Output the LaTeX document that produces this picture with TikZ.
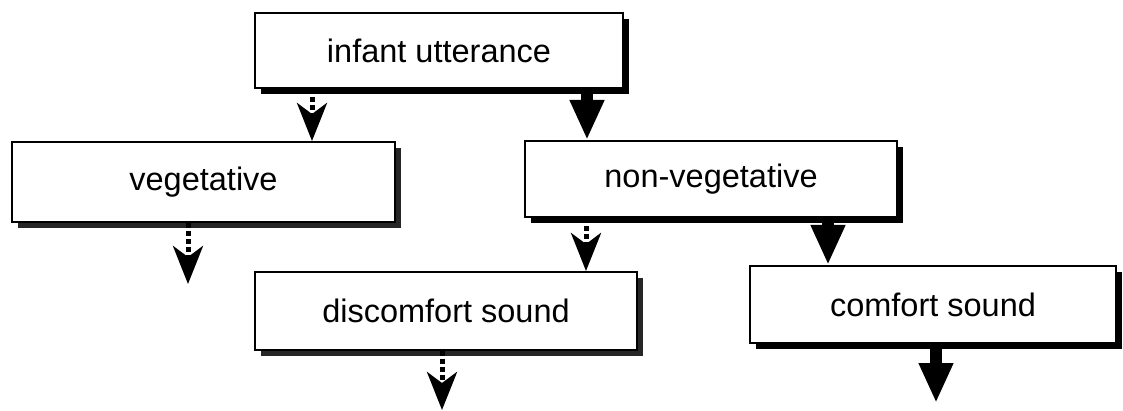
\documentclass[tikz,border=0pt]{standalone}
\usepackage{fontspec}
\setmainfont{Liberation Sans}
\usetikzlibrary{arrows.meta,shadows}
\begin{document}
\begin{tikzpicture}[x=1pt,y=-1pt,
  box/.style={draw=black, line width=2pt, fill=white, inner sep=0pt,
    font=\fontsize{32.5}{38}\selectfont,
    drop shadow={shadow xshift=6pt, shadow yshift=-6pt, fill=black, opacity=1}},
  graybox/.style={draw=black, line width=2pt, fill=white, inner sep=0pt,
    font=\fontsize{32.5}{38}\selectfont,
    drop shadow={shadow xshift=6pt, shadow yshift=-6pt, fill=black!85, opacity=1}},
  solidarrow/.style={line width=12pt, -{Triangle[length=40pt,width=32pt]}},
  dotarrow/.style={line width=5pt, dash pattern=on 5pt off 3pt,
    -{Stealth[length=38pt,width=30pt,inset=11pt]}}]
\useasboundingbox (0,0) rectangle (1123,411);
% boxes
\node[box, minimum width=368pt, minimum height=75pt] (infant) at (439,50.5) {infant utterance};
\node[graybox, minimum width=383pt, minimum height=80pt] (veg) at (203.5,182) {vegetative};
\node[box, minimum width=372pt, minimum height=76pt] (nonveg) at (711,179) {non-vegetative};
\node[graybox, minimum width=382pt, minimum height=78pt] (discomfort) at (446,311) {discomfort sound};
\node[box, minimum width=366pt, minimum height=77pt] (comfort) at (933,304.5) {comfort sound};
% arrow columns and free ends
\coordinate (c1) at (312,0);
\coordinate (c2) at (587,0);
\coordinate (c3) at (586,0);
\coordinate (c4) at (828,0);
\coordinate (vegend) at (188,284);
\coordinate (disend) at (442,410);
\coordinate (comend) at (936,403);
% connectors
\draw[dotarrow] (infant.south -| c1) -- (veg.north -| c1);
\draw[solidarrow] (infant.south -| c2) -- (nonveg.north -| c2);
\draw[dotarrow] (veg.south -| vegend) -- (vegend);
\draw[dotarrow] (nonveg.south -| c3) -- (discomfort.north -| c3);
\draw[solidarrow] (nonveg.south -| c4) -- (comfort.north -| c4);
\draw[dotarrow] (discomfort.south -| disend) -- (disend);
\draw[solidarrow] (comfort.south -| comend) -- (comend);
\end{tikzpicture}
\end{document}
